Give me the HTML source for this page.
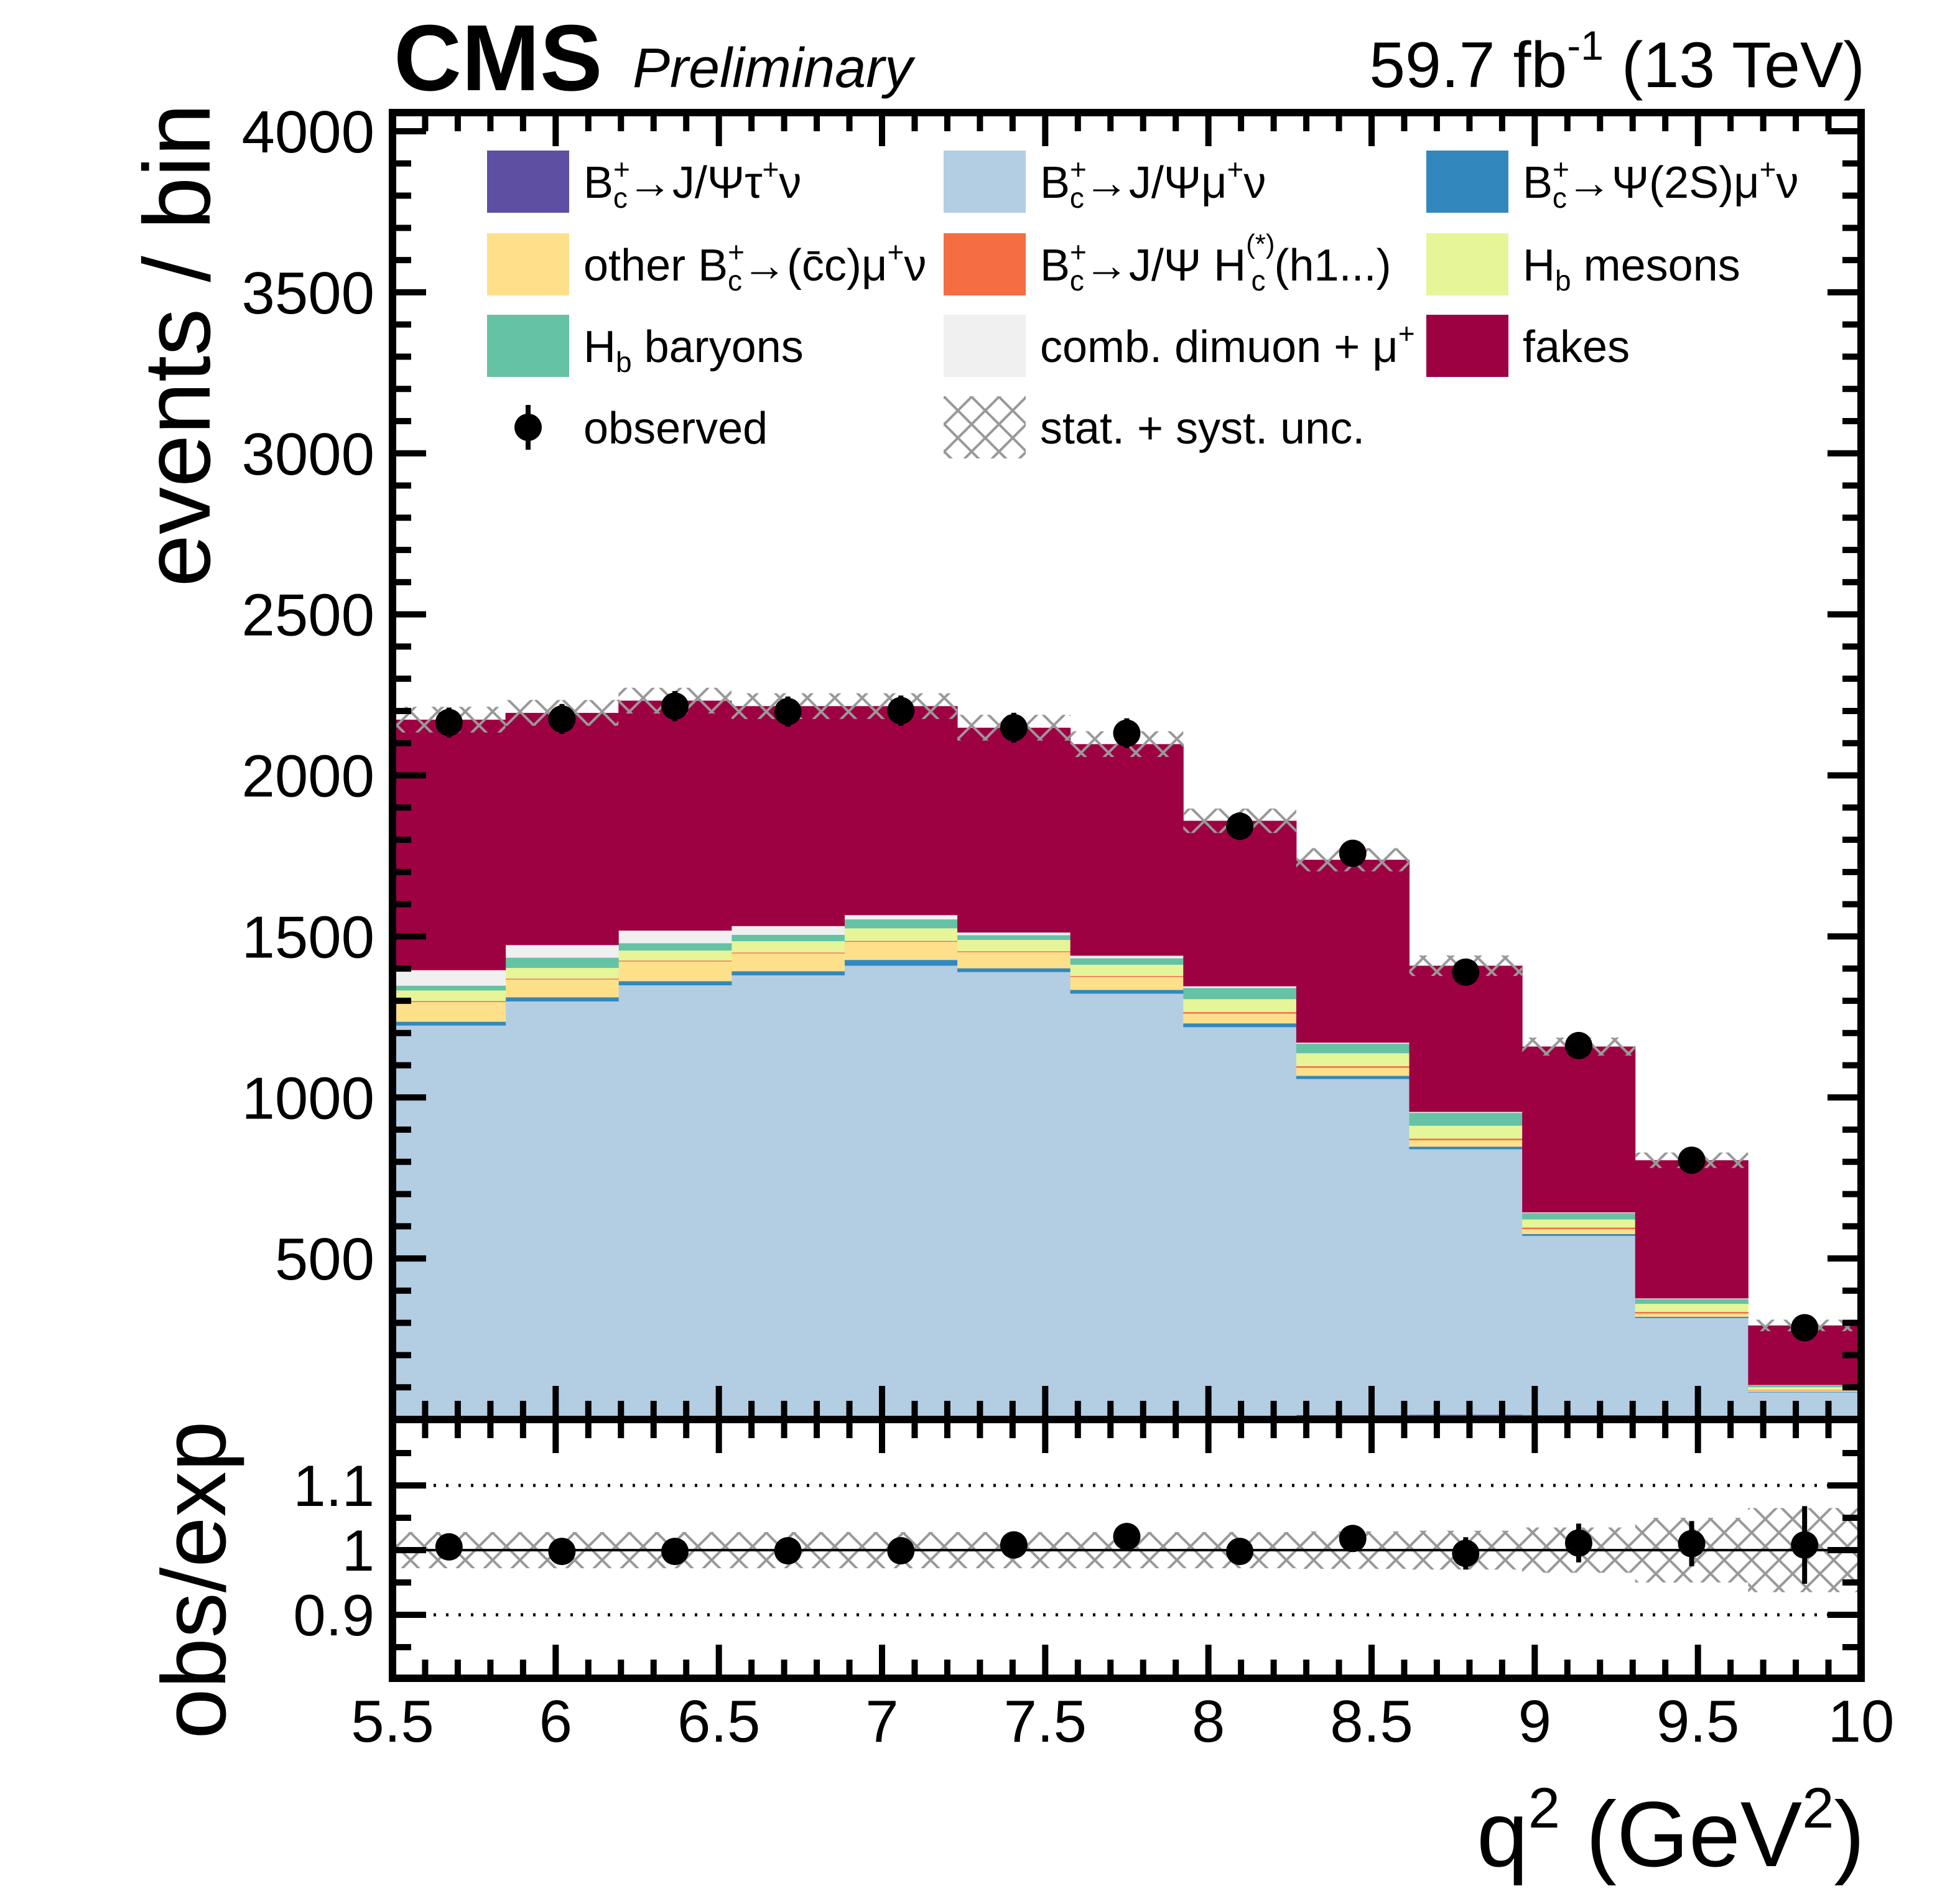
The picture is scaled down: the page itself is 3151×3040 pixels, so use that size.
<!DOCTYPE html>
<html><head><meta charset="utf-8"><style>
html,body{margin:0;padding:0;background:#fff;}
svg{display:block;font-family:"Liberation Sans",sans-serif;}
</style></head><body>
<svg id="chart" xmlns="http://www.w3.org/2000/svg" width="3151" height="3040" viewBox="0 0 3151 3040">
<defs>
<pattern id="hatch" patternUnits="userSpaceOnUse" width="44" height="44">
<path d="M0,0 L44,44 M44,0 L0,44" stroke="#999" stroke-width="4" fill="none"/>
</pattern>
<clipPath id="mainclip"><rect x="637" y="187" width="2349" height="2095"/></clipPath>
<clipPath id="ratioclip"><rect x="637" y="2282" width="2349" height="410"/></clipPath>
</defs>
<g id="main" clip-path="url(#mainclip)"></g>
<g id="ratio" clip-path="url(#ratioclip)"></g>
<g id="axes"></g>
<g id="legend"></g>
<text x="633" y="145" font-size="151" font-weight="bold">CMS</text>
<text x="1017" y="140" font-size="90" font-style="italic">Preliminary</text>
<text x="2998" y="140" font-size="104" text-anchor="end">59.7 fb<tspan font-size="66" dy="-44">-1</tspan><tspan dy="44"> (13 TeV)</tspan></text>
<text transform="translate(337,555) rotate(-90)" font-size="152" text-anchor="middle">events / bin</text>
<text transform="translate(362,2540) rotate(-90)" font-size="146" text-anchor="middle">obs/exp</text>
<text x="2998" y="3000" font-size="149" text-anchor="end">q<tspan font-size="92" dy="-62">2</tspan><tspan dy="62"> (GeV</tspan><tspan font-size="92" dy="-62">2</tspan><tspan dy="62">)</tspan></text>
</svg>
<script>
const binLo = 5.5, binHi = 10, nBins = 13;
const tau   = [8,8,8,9,9,9,10,12,14,15,14,10,4];
const mu    = [1215,1290,1340,1370,1400,1380,1312,1206,1043,824,556,305,80];
const psi2s = [12,13,13,13,18,12,12,12,10,8,6,4,2];
const other = [61,55,61,55,56,50,40,30,25,20,15,10,4];
const hc    = [3,3,3,3,3,3,3,5,5,5,5,5,2];
const hbMes = [33,33,31,35,39,35,35,40,40,40,25,25,8];
const hbBar = [15,32,23,20,28,15,20,35,30,40,20,15,6];
const comb  = [48,39,39,27,13,8,8,5,3,3,2,2,1];
const fakes = [778,721,714,683,649,636,657,514,568,454,515,429,185];
const observed = [2164,2175,2215,2198,2201,2148,2131,1842,1758,1389,1161,805,285];
const totUnc = [40,40,40,40,40,40,40,38,36,32,28,24,18];
const ratioVal = [1.005,0.998,0.998,0.999,0.999,1.008,1.021,0.998,1.018,0.995,1.011,1.010,1.008];
const ratioErr = [0.01,0.01,0.01,0.01,0.01,0.011,0.012,0.013,0.02,0.025,0.03,0.035,0.06];
const ratioUnc = [0.028,0.028,0.028,0.028,0.028,0.028,0.028,0.028,0.029,0.03,0.035,0.05,0.065];
const yTicks = [500,1000,1500,2000,2500,3000,3500,4000];
const xTicks = [5.5,6,6.5,7,7.5,8,8.5,9,9.5,10];
const rTicks = [0.9,1,1.1];

const NS = "http://www.w3.org/2000/svg";
const X = v => 631 + (v - 5.5) * (2992 - 631) / 4.5;
const Y = v => 2282 - v * (2282 - 211) / 4000;
const R = v => 2492 - (v - 1) * 1040;
const bw = (binHi - binLo) / nBins;
function mk(tag, attrs, parent) {
  const e = document.createElementNS(NS, tag);
  for (const k in attrs) e.setAttribute(k, attrs[k]);
  parent.appendChild(e);
  return e;
}
const main = document.getElementById('main');
const ratio = document.getElementById('ratio');
const axes = document.getElementById('axes');
const legend = document.getElementById('legend');

const layers = [
  ['tau', tau, '#5e4fa2'], ['mu', mu, '#b3cde3'], ['psi2s', psi2s, '#3288bd'],
  ['other', other, '#fee08b'], ['hc', hc, '#f46d43'], ['hb-mesons', hbMes, '#e6f598'],
  ['hb-baryons', hbBar, '#66c2a5'], ['comb', comb, '#f0f0f0'], ['fakes', fakes, '#9e0142']
];
const cum = new Array(nBins).fill(0);
layers.forEach(([name, arr, col]) => {
  for (let i = 0; i < nBins; i++) {
    const x0 = X(binLo + i * bw), x1 = X(binLo + (i + 1) * bw);
    const lo = cum[i], hi = cum[i] + arr[i];
    const r = mk('rect', {x: x0, y: Y(hi), width: x1 - x0 + 0.5, height: Y(lo) - Y(hi), fill: col}, main);
    
    
    cum[i] = hi;
  }
});
for (let i = 0; i < nBins; i++) {
  const x0 = X(binLo + i * bw), x1 = X(binLo + (i + 1) * bw);
  const r = mk('rect', {x: x0, y: Y(cum[i] + totUnc[i]), width: x1 - x0, height: Y(cum[i] - totUnc[i]) - Y(cum[i] + totUnc[i]), fill: 'url(#hatch)'}, main);
  
  
  const r2 = mk('rect', {x: x0, y: R(1 + ratioUnc[i]), width: x1 - x0, height: R(1 - ratioUnc[i]) - R(1 + ratioUnc[i]), fill: 'url(#hatch)'}, ratio);
  
  
}
[[1.1, '4 16'], [0.9, '4 16'], [1, null]].forEach(([v, d]) => {
  const l = mk('line', {x1: 637, x2: 2986, y1: R(v), y2: R(v), stroke: '#000', 'stroke-width': d ? 5 : 4}, ratio);
  if (d) l.setAttribute('stroke-dasharray', d);
  
  
});
for (let i = 0; i < nBins; i++) {
  const xc = X(binLo + (i + 0.5) * bw);
  const e = Math.sqrt(observed[i]);
  const l = mk('line', {x1: xc, x2: xc, y1: Y(observed[i] + e), y2: Y(observed[i] - e), stroke: '#000', 'stroke-width': 8}, main);
  
  
  const c = mk('circle', {cx: xc, cy: Y(observed[i]), r: 22, fill: '#000'}, main);
  
  
  const l2 = mk('line', {x1: xc, x2: xc, y1: R(ratioVal[i] + ratioErr[i]), y2: R(ratioVal[i] - ratioErr[i]), stroke: '#000', 'stroke-width': 8}, ratio);
  
  
  const c2 = mk('circle', {cx: xc, cy: R(ratioVal[i]), r: 22, fill: '#000'}, ratio);
  
  
}
[[181, 2282, 'main-frame'], [2282, 2698, 'ratio-frame']].forEach(([t, b, n]) => {
  const f = mk('rect', {x: 631, y: t, width: 2361, height: b - t, fill: 'none', stroke: '#000', 'stroke-width': 12}, axes);
  
  
});
for (let v = 100; v <= 4000; v += 100) {
  const len = v % 500 === 0 ? 48 : 24;
  const y = Y(v);
  const t1 = mk('line', {x1: 637, x2: 637 + len, y1: y, y2: y, stroke: '#000', 'stroke-width': 10}, axes);
  
  
  const t2 = mk('line', {x1: 2986, x2: 2986 - len, y1: y, y2: y, stroke: '#000', 'stroke-width': 10}, axes);
  
  
}
yTicks.forEach(v => {
  const t = mk('text', {x: 602, y: Y(v) + 34, 'font-size': 96, 'text-anchor': 'end'}, axes);
  t.textContent = v;
  
  
});
for (let v = 0.85; v <= 1.151; v += 0.05) {
  const major = Math.abs(Math.round(v * 10) - v * 10) < 1e-6;
  const len = major ? 48 : 24;
  const y = R(v);
  const t1 = mk('line', {x1: 637, x2: 637 + len, y1: y, y2: y, stroke: '#000', 'stroke-width': 10}, axes);
  
  
  const t2 = mk('line', {x1: 2986, x2: 2986 - len, y1: y, y2: y, stroke: '#000', 'stroke-width': 10}, axes);
  
  
}
rTicks.forEach(v => {
  const t = mk('text', {x: 602, y: R(v) + 33, 'font-size': 94, 'text-anchor': 'end'}, axes);
  t.textContent = v;
  
  
});
for (let k = 0; k <= 45; k++) {
  const v = 5.5 + k * 0.1;
  const len = k % 5 === 0 ? 48 : 24;
  const x = X(v);
  [[187, 1], [2276, -1], [2288, 1], [2692, -1]].forEach(([y0, dir]) => {
    const t = mk('line', {x1: x, x2: x, y1: y0, y2: y0 + dir * len, stroke: '#000', 'stroke-width': 10}, axes);
    
    
  });
}
xTicks.forEach(v => {
  const t = mk('text', {x: X(v), y: 2800, 'font-size': 96, 'text-anchor': 'middle'}, axes);
  t.textContent = v;
  
  
});
const sub = (s) => '<tspan font-size="46" dy="-30">+</tspan><tspan font-size="46" dx="-27" dy="46">' + s + '</tspan><tspan dy="-16">';
const legItems = [
  [783, 292, '#5e4fa2', 'legend-tau', 'B' + sub('c') + '→J/Ψτ</tspan><tspan font-size="46" dy="-30">+</tspan><tspan dy="30">ν</tspan>'],
  [1517, 292, '#b3cde3', 'legend-mu', 'B' + sub('c') + '→J/Ψμ</tspan><tspan font-size="46" dy="-30">+</tspan><tspan dy="30">ν</tspan>'],
  [2293, 292, '#3288bd', 'legend-psi2s', 'B' + sub('c') + '→Ψ(2S)μ</tspan><tspan font-size="46" dy="-30">+</tspan><tspan dy="30">ν</tspan>'],
  [783, 425, '#fee08b', 'legend-other', 'other B' + sub('c') + '→(c̄c)μ</tspan><tspan font-size="46" dy="-30">+</tspan><tspan dy="30">ν</tspan>'],
  [1517, 425, '#f46d43', 'legend-hc', 'B' + sub('c') + '→J/Ψ H</tspan><tspan font-size="44" dy="-44">(*)</tspan><tspan font-size="46" dx="-38" dy="60">c</tspan><tspan dx="14" dy="-16">(h1...)</tspan>'],
  [2293, 425, '#e6f598', 'legend-hb-mesons', 'H<tspan font-size="46" dy="16">b</tspan><tspan dy="-16"> mesons</tspan>'],
  [783, 556, '#66c2a5', 'legend-hb-baryons', 'H<tspan font-size="46" dy="16">b</tspan><tspan dy="-16"> baryons</tspan>'],
  [1517, 556, '#f0f0f0', 'legend-comb', 'comb. dimuon + μ<tspan font-size="46" dy="-30">+</tspan>'],
  [2293, 556, '#9e0142', 'legend-fakes', 'fakes'],
  [783, 687, null, 'legend-observed', 'observed'],
  [1517, 687, 'url(#hatch)', 'legend-unc', 'stat. + syst. unc.']
];
legItems.forEach(([x, y, col, name, html]) => {
  const g = mk('g', {}, legend);
  
  
  if (col) {
    mk('rect', {x: x, y: y - 50, width: 132, height: 100, fill: col}, g);
  } else {
    mk('line', {x1: x + 66, x2: x + 66, y1: y - 36, y2: y + 36, stroke: '#000', 'stroke-width': 8}, g);
    mk('circle', {cx: x + 66, cy: y, r: 22, fill: '#000'}, g);
  }
  const t = mk('text', {x: x + 155, y: y + 26, 'font-size': 72}, g);
  t.innerHTML = html;
});
</script>
</body></html>
